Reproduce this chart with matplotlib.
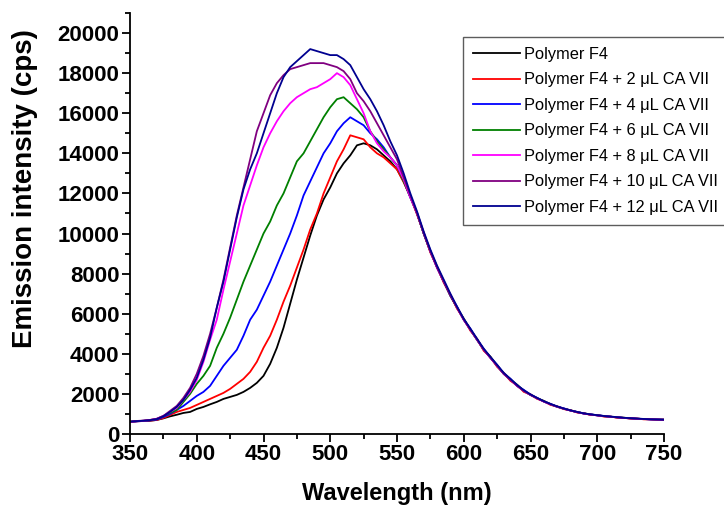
import numpy as np
import matplotlib
matplotlib.use("Agg")
import matplotlib.pyplot as plt
from matplotlib.ticker import MultipleLocator

plt.rcParams['font.family'] = ['Liberation Sans', 'DejaVu Sans']

# Emission spectra sampled every 5 nm from 350 to 750 nm
wavelength = np.arange(350, 755, 5)

f4 = [620, 640, 650, 660, 700, 780, 880, 960, 1050, 1100,
      1250, 1350, 1480, 1600, 1750, 1850, 1950, 2100, 2300, 2550,
      2900, 3500, 4300, 5300, 6500, 7700, 8800, 9900, 10900, 11700,
      12300, 13000, 13500, 13900, 14400, 14500, 14400, 14200, 13900, 13600,
      13200, 12600, 11800, 11000, 10000, 9100, 8300, 7600, 6900, 6300,
      5700, 5200, 4700, 4200, 3800, 3400, 3000, 2700, 2400, 2150,
      1950, 1780, 1620, 1480, 1360, 1260, 1170, 1090, 1020, 970,
      930, 890, 860, 830, 800, 780, 760, 745, 730, 720, 710]

f4_2ul = [600, 630, 650, 670, 700, 800, 950, 1100, 1200, 1300,
          1450, 1600, 1750, 1900, 2050, 2250, 2500, 2750, 3100, 3600,
          4300, 4900, 5700, 6600, 7400, 8300, 9200, 10200, 11000, 12000,
          12800, 13600, 14200, 14900, 14800, 14700, 14300, 14000, 13800, 13500,
          13200, 12550, 11850, 10950, 10050, 9050, 8350, 7550, 6950, 6250,
          5750, 5150, 4750, 4150, 3850, 3350, 3050, 2650, 2450, 2100,
          1980, 1750, 1650, 1450, 1380, 1240, 1190, 1070, 1040, 950,
          940, 870, 870, 810, 810, 770, 770, 730, 740, 710, 720]

f4_4ul = [600, 630, 650, 680, 720, 850, 1000, 1200, 1400, 1650,
          1900, 2100, 2400, 2900, 3400, 3800, 4200, 4900, 5700, 6200,
          6900, 7600, 8400, 9200, 10000, 10900, 11900, 12600, 13300, 14000,
          14500, 15100, 15500, 15800, 15600, 15400, 15000, 14700, 14300, 13800,
          13400, 12650, 11800, 11050, 10000, 9150, 8300, 7650, 6900, 6350,
          5700, 5250, 4700, 4250, 3800, 3450, 3000, 2750, 2400, 2200,
          1950, 1800, 1620, 1500, 1360, 1280, 1170, 1100, 1020, 980,
          930, 900, 860, 840, 800, 790, 760, 750, 730, 725, 710]

f4_6ul = [600, 640, 660, 700, 750, 900, 1050, 1200, 1600, 2000,
          2500, 2900, 3400, 4300, 5000, 5800, 6700, 7600, 8400, 9200,
          10000, 10600, 11400, 12000, 12800, 13600, 14000, 14600, 15200, 15800,
          16300, 16700, 16800, 16500, 16200, 15800, 15100, 14600, 14200, 13800,
          13400, 12600, 11850, 11000, 10000, 9100, 8350, 7600, 6900, 6300,
          5750, 5200, 4700, 4200, 3850, 3400, 3000, 2700, 2450, 2150,
          1950, 1780, 1650, 1480, 1360, 1260, 1180, 1090, 1030, 970,
          940, 890, 860, 830, 810, 780, 760, 745, 735, 720, 715]

f4_8ul = [600, 640, 660, 700, 760, 900, 1100, 1300, 1700, 2100,
          2700, 3600, 4700, 5700, 7200, 8600, 10000, 11400, 12400, 13400,
          14300, 15000, 15600, 16100, 16500, 16800, 17000, 17200, 17300, 17500,
          17700, 18000, 17800, 17400, 16700, 16000, 15100, 14500, 14100, 13800,
          13400, 12700, 11800, 11000, 10050, 9100, 8300, 7600, 6950, 6300,
          5700, 5200, 4700, 4200, 3800, 3400, 3000, 2700, 2400, 2150,
          1950, 1780, 1620, 1480, 1360, 1260, 1170, 1090, 1020, 970,
          930, 890, 860, 830, 800, 780, 760, 745, 730, 720, 710]

f4_10ul = [600, 650, 670, 700, 760, 900, 1150, 1400, 1800, 2300,
           3000, 3900, 5000, 6300, 7700, 9300, 10900, 12300, 13700, 15100,
           16000, 16900, 17500, 17900, 18200, 18300, 18400, 18500, 18500, 18500,
           18400, 18300, 18100, 17700, 17000, 16600, 16100, 15500, 14900, 14300,
           13700, 12800, 11900, 11000, 10000, 9100, 8300, 7600, 6900, 6300,
           5700, 5200, 4700, 4200, 3800, 3400, 3000, 2700, 2400, 2150,
           1950, 1780, 1620, 1480, 1360, 1260, 1170, 1090, 1020, 970,
           930, 890, 860, 830, 800, 780, 760, 745, 730, 720, 710]

f4_12ul = [620, 640, 660, 690, 740, 880, 1100, 1350, 1700, 2200,
           2800, 3700, 4800, 6300, 7600, 9200, 10800, 12200, 13200, 14000,
           15000, 16000, 17000, 17800, 18300, 18600, 18900, 19200, 19100, 19000,
           18900, 18900, 18700, 18400, 17800, 17200, 16700, 16100, 15400, 14600,
           13900, 13000, 12000, 11100, 10100, 9200, 8400, 7700, 7000, 6350,
           5750, 5250, 4750, 4250, 3850, 3450, 3050, 2750, 2450, 2180,
           1980, 1800, 1640, 1500, 1380, 1270, 1180, 1100, 1030, 980,
           940, 900, 870, 840, 810, 790, 770, 750, 735, 725, 715]

series = [f4, f4_2ul, f4_4ul, f4_6ul, f4_8ul, f4_10ul, f4_12ul]
labels = ["Polymer F4",
          "Polymer F4 + 2 μL CA VII",
          "Polymer F4 + 4 μL CA VII",
          "Polymer F4 + 6 μL CA VII",
          "Polymer F4 + 8 μL CA VII",
          "Polymer F4 + 10 μL CA VII",
          "Polymer F4 + 12 μL CA VII"]
colors = ["#000000", "#ff0000", "#0000ff", "#008000", "#ff00ff", "#800080", "#000090"]

fig = plt.figure(figsize=(7.24, 5.08), dpi=100)
ax = fig.add_axes([130 / 724, 1 - 434 / 508, 534 / 724, 421 / 508])

for y, lab, c in zip(series, labels, colors):
    ax.plot(wavelength, y, color=c, lw=1.3, label=lab)

ax.set_xlim(350, 750)
ax.set_ylim(0, 21000)
ax.xaxis.set_major_locator(MultipleLocator(50))
ax.xaxis.set_minor_locator(MultipleLocator(25))
ax.yaxis.set_major_locator(MultipleLocator(2000))
ax.yaxis.set_minor_locator(MultipleLocator(1000))

for s in ("top", "right"):
    ax.spines[s].set_visible(False)
for s in ("left", "bottom"):
    ax.spines[s].set_linewidth(1.3)

ax.tick_params(which="major", direction="out", length=6, width=1.3,
               labelsize=16, pad=1.5)
ax.tick_params(which="minor", direction="out", length=3.5, width=1.3)
for t in ax.get_xticklabels() + ax.get_yticklabels():
    t.set_fontweight("bold")

ax.set_xlabel("Wavelength (nm)", fontsize=17, fontweight="bold", labelpad=12)
fig.text(25 / 724, 1 - 189 / 508, "Emission intensity (cps)", rotation=90,
         ha="center", va="center", fontsize=20, fontweight="bold")

leg = ax.legend(loc="upper left", bbox_to_anchor=(463 / 724, 1 - 37 / 508),
                bbox_transform=fig.transFigure, borderaxespad=0,
                fontsize=11.8, frameon=True, fancybox=False,
                handlelength=2.85, handletextpad=0.3, labelspacing=0.64,
                borderpad=0.6)
leg.get_frame().set_edgecolor("#333333")
leg.get_frame().set_linewidth(1.0)

fig.savefig("out.png", dpi=100)
